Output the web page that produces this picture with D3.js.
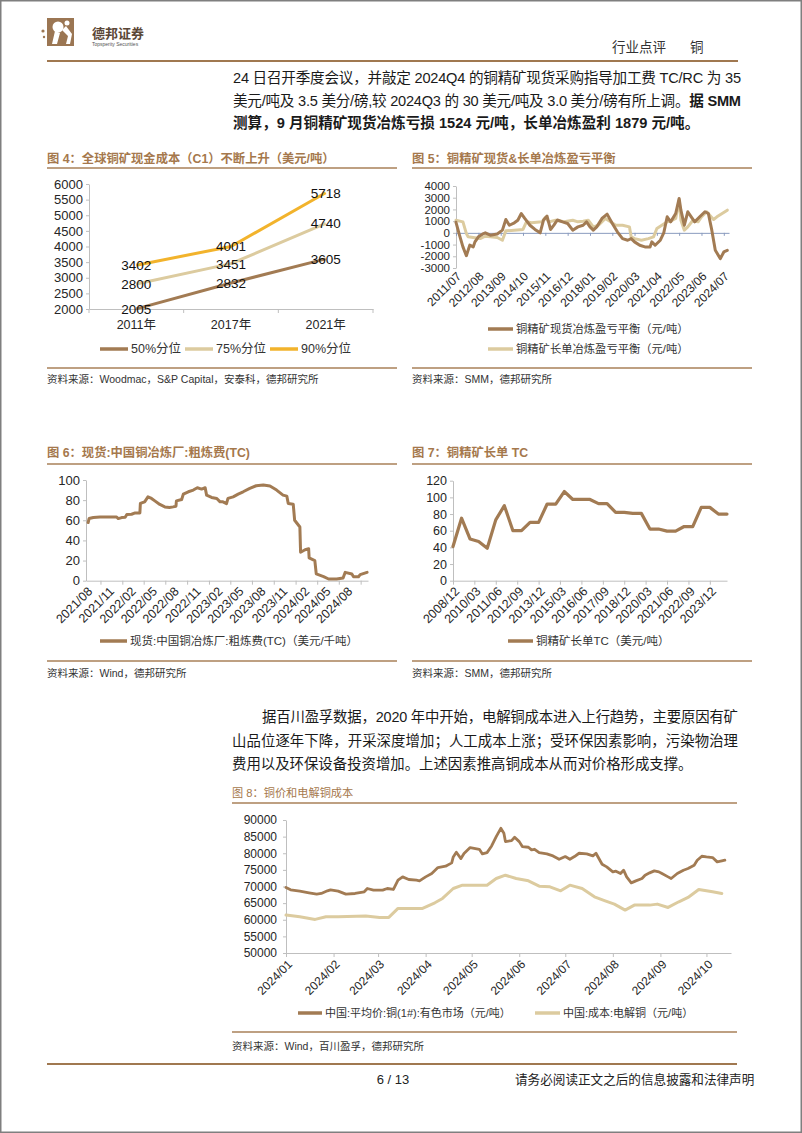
<!DOCTYPE html>
<html><head><meta charset="utf-8">
<script src="https://cdn.jsdelivr.net/npm/d3@7"></script>
<style>
html,body{margin:0;padding:0;background:#fff;}
svg{display:block;}
text{font-family:"Liberation Sans","Noto Sans CJK SC",sans-serif;}
</style></head><body>
<svg id="page" width="802" height="1133"></svg>
<script>
// ---------------- DATA ----------------
// Fig 4
const c1Years = ["2011年","2017年","2021年"];
const c1P50 = [2005, 2832, 3605];
const c1P75 = [2800, 3451, 4740];
const c1P90 = [3402, 4001, 5718];
const c1Ticks = [2000,2500,3000,3500,4000,4500,5000,5500,6000];
const c1Names = ["50%分位","75%分位","90%分位"];

// Fig 5
const balSpotDates = ["2011-07","2011-09","2011-11","2012-01","2012-03","2012-05","2012-06","2012-08","2012-11","2012-12","2013-03","2013-07","2013-10","2013-12","2014-02","2014-05","2014-07","2014-09","2014-11","2015-02","2015-05","2015-08","2015-10","2015-12","2016-02","2016-04","2016-06","2016-09","2016-12","2017-03","2017-06","2017-09","2017-11","2018-01","2018-03","2018-05","2018-08","2018-11","2019-02","2019-05","2019-08","2019-11","2020-01","2020-03","2020-06","2020-09","2020-12","2021-01","2021-03","2021-06","2021-08","2021-10","2021-12","2022-03","2022-05","2022-06","2022-08","2022-10","2022-12","2023-02","2023-05","2023-08","2023-10","2023-12","2024-02","2024-05","2024-07","2024-09"];
const balSpot = [900,-200,-1200,-1950,-1050,-1200,-770,-340,-60,0,-200,-100,230,1140,650,860,1080,1650,1230,650,290,0,1100,1430,290,660,1100,940,800,230,510,650,940,510,230,510,1230,1600,800,90,-490,-630,-490,-770,-1060,-1200,-1200,-770,-1060,-630,0,1370,940,1650,2940,1940,650,1800,1370,940,1370,1800,1650,230,-1490,-2200,-1630,-1500];
const balLongDates = ["2011-07","2011-11","2012-01","2012-02","2012-05","2012-09","2012-12","2013-03","2013-07","2013-10","2013-12","2014-05","2014-10","2014-12","2015-03","2015-09","2015-11","2016-01","2016-05","2016-10","2017-03","2017-06","2017-09","2017-12","2018-03","2018-06","2018-10","2019-01","2019-04","2019-08","2019-12","2020-01","2020-03","2020-07","2020-11","2021-02","2021-04","2021-06","2021-10","2022-01","2022-03","2022-05","2022-06","2022-08","2022-10","2023-01","2023-04","2023-06","2023-09","2024-01","2024-03","2024-06","2024-09"];
const balLong = [1080,940,-60,-340,-400,-490,-290,-340,-400,-630,170,230,290,940,860,940,1310,940,1080,940,1080,940,1000,1080,510,650,1230,940,650,650,510,-340,-490,-630,-490,-340,370,570,940,1080,1230,2800,1080,230,510,1080,940,1370,1800,1140,1370,1650,1940];
const balTicks = [-3000,-2000,-1000,0,1000,2000,3000,4000];
const balTickLabels = ["2011/07","2012/08","2013/09","2014/10","2015/11","2016/12","2018/01","2019/02","2020/03","2021/04","2022/05","2023/06","2024/07"];
const balNames = ["铜精矿现货冶炼盈亏平衡（元/吨）","铜精矿长单冶炼盈亏平衡（元/吨）"];

// Fig 6
const tcSpotDates = ["2021-08-10","2021-08-14","2021-09-01","2021-09-29","2021-10-27","2021-12-08","2021-12-15","2021-12-29","2022-01-13","2022-01-20","2022-02-09","2022-02-24","2022-03-16","2022-03-18","2022-04-05","2022-04-19","2022-05-04","2022-05-18","2022-06-08","2022-06-29","2022-07-19","2022-08-03","2022-08-15","2022-08-17","2022-09-08","2022-09-15","2022-10-06","2022-10-27","2022-11-13","2022-12-01","2022-12-16","2022-12-22","2023-01-12","2023-02-03","2023-02-17","2023-03-01","2023-03-16","2023-03-22","2023-04-13","2023-05-04","2023-05-25","2023-06-22","2023-07-19","2023-08-18","2023-09-15","2023-10-13","2023-11-09","2023-11-25","2023-12-01","2023-12-22","2023-12-28","2024-01-19","2024-01-22","2024-02-10","2024-02-25","2024-02-27","2024-03-22","2024-03-28","2024-04-28","2024-05-19","2024-06-22","2024-07-19","2024-07-28","2024-08-25","2024-09-01","2024-09-22","2024-09-29","2024-10-28"];
const tcSpot = [57.7,61.7,62.7,63.3,63.3,63.3,61.7,62.7,63,65.7,66,67.3,67.3,76.7,78.3,83.3,81.7,79.3,75.7,73.3,72.7,73.3,74,79.3,80.7,86,88.3,90,92.3,91,92.3,85,82.7,81.7,78.3,78.3,76.5,81.7,83.3,86,88.3,91.7,94.3,95,94,90,85,84,76.7,76,60,53.3,28.3,30.7,31.7,22.7,20,6.7,4,1.7,1.7,2.7,8.3,6.7,4,4,6,8.3];
const tcSpotTicks = [0,20,40,60,80,100];
const tcSpotTickLabels = ["2021/08","2021/11","2022/02","2022/05","2022/08","2022/11","2023/02","2023/05","2023/08","2023/11","2024/02","2024/05","2024/08"];
const tcSpotName = "现货:中国铜冶炼厂:粗炼费(TC)（美元/千吨）";

// Fig 7
const tcLongDates = ["2008-12","2009-06","2009-12","2010-06","2010-12","2011-06","2011-12","2012-06","2012-12","2013-06","2013-12","2014-06","2014-12","2015-06","2015-12","2016-06","2016-12","2017-06","2017-12","2018-06","2018-12","2019-06","2019-12","2020-06","2020-12","2021-06","2021-12","2022-06","2022-12","2023-06","2023-12","2024-06","2024-12"];
const tcLong = [41,75,50,47,39,73,90,60,60,70,70,92,92,107,97.5,97.5,97.5,92.5,92.5,82,82,80.8,80.8,62,62,59.5,59.5,65,65,88,88,80,80];
const tcLongTicks = [0,20,40,60,80,100,120];
const tcLongTickLabels = ["2008/12","2010/03","2011/06","2012/09","2013/12","2015/03","2016/06","2017/09","2018/12","2020/03","2021/06","2022/09","2023/12"];
const tcLongName = "铜精矿长单TC（美元/吨）";

// Fig 8
const cuPriceDates = ["2024-01-01","2024-01-04","2024-01-10","2024-01-16","2024-01-21","2024-01-24","2024-01-28","2024-01-30","2024-02-04","2024-02-09","2024-02-15","2024-02-21","2024-02-23","2024-02-27","2024-03-04","2024-03-07","2024-03-11","2024-03-14","2024-03-17","2024-03-21","2024-03-26","2024-03-28","2024-04-01","2024-04-05","2024-04-09","2024-04-14","2024-04-18","2024-04-19","2024-04-21","2024-04-24","2024-04-26","2024-04-30","2024-05-06","2024-05-08","2024-05-11","2024-05-14","2024-05-17","2024-05-20","2024-05-22","2024-05-23","2024-05-27","2024-05-29","2024-06-01","2024-06-03","2024-06-07","2024-06-09","2024-06-11","2024-06-14","2024-06-19","2024-06-23","2024-06-27","2024-07-01","2024-07-04","2024-07-07","2024-07-10","2024-07-15","2024-07-19","2024-07-21","2024-07-25","2024-07-28","2024-08-01","2024-08-03","2024-08-06","2024-08-08","2024-08-10","2024-08-13","2024-08-16","2024-08-20","2024-08-22","2024-08-25","2024-08-28","2024-08-31","2024-09-02","2024-09-06","2024-09-08","2024-09-12","2024-09-16","2024-09-19","2024-09-23","2024-09-25","2024-09-28","2024-10-01","2024-10-05","2024-10-08","2024-10-11","2024-10-13"];
const cuPrice = [69700,69000,68600,68100,67700,67900,68700,69000,68600,67700,67900,68400,69400,68900,68900,69400,69100,71900,72900,72100,71900,71700,72900,73900,75700,76100,77100,78900,80300,78400,79900,81700,81200,79800,80200,82200,85000,87500,86000,83500,83800,84800,83500,82000,81800,81000,81200,80200,79800,79200,78200,79000,78200,79000,80000,79800,79200,80000,76700,75900,74400,74600,73900,74900,72900,71100,71700,72400,73400,74100,74700,74400,73900,72900,72400,73900,74900,75400,76400,77900,79100,78900,78700,77400,77700,77900];
const cuCostDates = ["2024-01-01","2024-01-10","2024-01-20","2024-01-27","2024-02-04","2024-02-22","2024-03-02","2024-03-08","2024-03-14","2024-03-30","2024-04-07","2024-04-12","2024-04-19","2024-04-25","2024-05-11","2024-05-17","2024-05-23","2024-05-30","2024-06-07","2024-06-14","2024-06-21","2024-06-28","2024-07-04","2024-07-12","2024-07-20","2024-07-27","2024-08-02","2024-08-09","2024-08-15","2024-08-25","2024-08-30","2024-09-06","2024-09-13","2024-09-19","2024-09-26","2024-10-05","2024-10-11"];
const cuCost = [61400,60900,60100,60900,60900,61100,60700,60700,63400,63400,65100,66400,69400,70400,70400,72400,73400,72400,71700,70100,69900,68700,70400,69400,66900,65700,64700,62900,64400,64400,64700,63700,65400,66700,69100,68400,67900];
const cuTicks = [50000,55000,60000,65000,70000,75000,80000,85000,90000];
const cuTickLabels = ["2024/01","2024/02","2024/03","2024/04","2024/05","2024/06","2024/07","2024/08","2024/09","2024/10"];
const cuNames = ["中国:平均价:铜(1#):有色市场（元/吨）","中国:成本:电解铜（元/吨）"];

// ---------------- STYLE ----------------
const BROWN = "#a27b53", LIGHT = "#dccb9f", GOLD = "#f2b32c";
const RULEC = "#a98159", TITLEC = "#a5784c", AXISC = "#bfbfbf", TXT = "#262626";
const pM = d3.timeParse("%Y-%m"), pD = d3.timeParse("%Y-%m-%d"), pS = d3.timeParse("%Y/%m");

const svg = d3.select("#page");
svg.append("rect").attr("x",0.75).attr("y",0.75).attr("width",800.5).attr("height",1131.5)
  .attr("fill","#fff").attr("stroke","#7f7f7f").attr("stroke-width",1.5);

function rule(x1,x2,y,w,c){ svg.append("line").attr("x1",x1).attr("x2",x2).attr("y1",y).attr("y2",y).attr("stroke",c||RULEC).attr("stroke-width",w||1.3); }
function txt(x,y,s,size,opt){ opt=opt||{};
  const t = svg.append("text").attr("x",x).attr("y",y).attr("font-size",size).attr("fill",opt.fill||"#1a1a1a").text(s);
  if(opt.weight) t.attr("font-weight",opt.weight);
  if(opt.anchor) t.attr("text-anchor",opt.anchor);
  if(opt.len) t.attr("textLength",opt.len).attr("lengthAdjust","spacing");
  return t; }
function styleAxis(g,size){
  g.select(".domain").attr("stroke",AXISC);
  g.selectAll(".tick line").attr("stroke",AXISC);
  g.selectAll("text").attr("font-size",size).attr("fill",TXT).attr("font-family",'"Liberation Sans",sans-serif');
}
function rotLabels(g,scale,labels,y,dx,size){
  g.selectAll(null).data(labels).join("text")
   .attr("transform",d=>`translate(${scale(pS(d))+dx},${y}) rotate(-45)`)
   .attr("text-anchor","end").attr("dy","0.35em").attr("font-size",size).attr("fill",TXT).text(d=>d);
}
function drawLine(g,x,y,dates,vals,parse,color,w){
  const pts = dates.map((d,i)=>({d:parse(d),v:vals[i]}));
  g.append("path").datum(pts).attr("fill","none").attr("stroke",color).attr("stroke-width",w)
   .attr("stroke-linejoin","round").attr("stroke-linecap","round")
   .attr("d",d3.line().x(p=>x(p.d)).y(p=>y(p.v)));
}
function legendItem(x,y,len,color,w,label,size){
  svg.append("line").attr("x1",x).attr("x2",x+len).attr("y1",y).attr("y2",y).attr("stroke",color).attr("stroke-width",w);
  txt(x+len+3,y,label,size,{fill:"#333"}).attr("dy","0.35em");
}

// ---------------- HEADER ----------------
svg.append("rect").attr("x",47).attr("y",18).attr("width",27).attr("height",28).attr("fill","#9b7653");
svg.append("circle").attr("cx",58).attr("cy",27).attr("r",5.5).attr("fill","#fff");
svg.append("path").attr("d","M55,31 L52,44 L57,44 L60,33 Z M62,30 L68,36 L66,44 L70,44 L72,34 L66,26 Z").attr("fill","#fff");
svg.append("circle").attr("cx",67).attr("cy",23).attr("r",2.5).attr("fill","#fff");
svg.append("circle").attr("cx",43).attr("cy",31).attr("r",1.6).attr("fill","#9b7653");
svg.append("circle").attr("cx",44).attr("cy",37).attr("r",1.2).attr("fill","#9b7653");
txt(92,38,"德邦证券",13,{weight:"bold",fill:"#5a4636"});
txt(92,45.5,"Topsperity Securities",5,{fill:"#555"});
txt(612,52,"行业点评",13.5,{fill:"#333"});
txt(690,52,"铜",13.5,{fill:"#333"});
rule(47,738,61,2.2,"#a07850");

// paragraph 1
txt(233,83,"24 日召开季度会议，并敲定 2024Q4 的铜精矿现货采购指导加工费 TC/RC 为 35",14.6,{len:508});
{ const t = svg.append("text").attr("x",233).attr("y",106).attr("font-size",14.6).attr("fill","#1a1a1a")
    .attr("textLength",508).attr("lengthAdjust","spacing");
  t.append("tspan").text("美元/吨及 3.5 美分/磅,较 2024Q3 的 30 美元/吨及 3.0 美分/磅有所上调。");
  t.append("tspan").attr("font-weight","bold").text("据 SMM"); }
txt(233,128,"测算，9 月铜精矿现货冶炼亏损 1524 元/吨，长单冶炼盈利 1879 元/吨。",14.6,{weight:"bold"});

// ---------------- FIG 4 ----------------
txt(47,163,"图 4：全球铜矿现金成本（C1）不断上升（美元/吨）",12.3,{fill:TITLEC,weight:"bold"});
rule(47,397,168);
{
  const g = svg.append("g");
  const x = d3.scaleBand().domain(c1Years).range([89,373]);
  const y = d3.scaleLinear().domain([2000,6000]).range([309,184]);
  const ya = g.append("g").attr("transform","translate(89,0)")
    .call(d3.axisLeft(y).tickValues(c1Ticks).tickSize(3).tickPadding(3).tickSizeOuter(0).tickFormat(d=>d));
  styleAxis(ya,13);
  const xa = g.append("g").attr("transform","translate(0,309)")
    .call(d3.axisBottom(x).tickSize(0).tickPadding(11).tickSizeOuter(0));
  styleAxis(xa,12.5);
  xa.selectAll("text").attr("font-family",'"Liberation Sans","Noto Sans CJK SC",sans-serif');
  g.selectAll(null).data(d3.range(c1Years.length+1)).join("line")
    .attr("x1",i=>x.range()[0]+i*x.step()).attr("x2",i=>x.range()[0]+i*x.step())
    .attr("y1",y(2000)).attr("y2",y(2000)+4).attr("stroke",AXISC);
  const series = [{n:c1Names[0],v:c1P50,c:BROWN},{n:c1Names[1],v:c1P75,c:LIGHT},{n:c1Names[2],v:c1P90,c:GOLD}];
  const cx = d=>x(d)+x.bandwidth()/2;
  series.forEach(s=>{
    g.append("path").datum(s.v).attr("fill","none").attr("stroke",s.c).attr("stroke-width",3)
      .attr("stroke-linejoin","round")
      .attr("d",d3.line().x((v,i)=>cx(c1Years[i])).y(v=>y(v)));
  });
  series.forEach(s=>{
    g.selectAll(null).data(s.v).join("text").attr("x",(v,i)=>cx(c1Years[i])).attr("y",v=>y(v))
      .attr("dy","0.36em").attr("text-anchor","middle").attr("font-size",13.5).attr("fill","#111").text(v=>v);
  });
  series.forEach((s,i)=>legendItem(100+i*85,349,28,s.c,3.5,s.n,12.5));
}
rule(47,397,368);
txt(47,383,"资料来源：Woodmac，S&P Capital，安泰科，德邦研究所",10.5,{fill:"#333"});

// ---------------- FIG 5 ----------------
txt(412,163,"图 5：铜精矿现货&长单冶炼盈亏平衡",12.3,{fill:TITLEC,weight:"bold"});
rule(412,752,168);
{
  const g = svg.append("g");
  const x = d3.scaleTime().domain([pM("2011-07"),pM("2024-10")]).range([456,729]);
  const y = d3.scaleLinear().domain([-3000,4000]).range([268,186]);
  const ya = g.append("g").attr("transform","translate(456,0)")
    .call(d3.axisLeft(y).tickValues(balTicks).tickSize(3).tickPadding(3).tickSizeOuter(0).tickFormat(d=>String(d)));
  styleAxis(ya,11.5);
  const xa = g.append("g").attr("transform",`translate(0,${y(0)})`)
    .call(d3.axisBottom(x).tickValues(balTickLabels.map(pS)).tickSize(3).tickSizeOuter(0).tickFormat(""));
  xa.select(".domain").attr("stroke","#8a9bbf");
  xa.selectAll(".tick line").attr("stroke","#8a9bbf");
  rotLabels(g,x,balTickLabels,274,3,12);
  drawLine(g,x,y,balLongDates,balLong,pM,LIGHT,3);
  drawLine(g,x,y,balSpotDates,balSpot,pM,BROWN,3);
  legendItem(488,329,25,BROWN,3.5,balNames[0],11.3);
  legendItem(488,349,25,LIGHT,3.5,balNames[1],11.3);
}
rule(412,752,368);
txt(412,383,"资料来源：SMM，德邦研究所",10.5,{fill:"#333"});

// ---------------- FIG 6 ----------------
txt(47,457,"图 6：现货:中国铜冶炼厂:粗炼费(TC)",12.3,{fill:TITLEC,weight:"bold"});
rule(47,397,464);
{
  const g = svg.append("g");
  const x = d3.scaleTime().domain([pM("2021-08"),pM("2024-11")]).range([86,368]);
  const y = d3.scaleLinear().domain([0,100]).range([580.7,480]);
  const ya = g.append("g").attr("transform","translate(86,0)")
    .call(d3.axisLeft(y).tickValues(tcSpotTicks).tickSize(3).tickPadding(3).tickSizeOuter(0));
  styleAxis(ya,13);
  const tickDates = d3.timeMonth.every(3).range(pM("2021-08"),d3.timeDay.offset(pM("2024-11"),1));
  const xa = g.append("g").attr("transform",`translate(0,${y(0)})`)
    .call(d3.axisBottom(x).tickValues(tickDates).tickSize(4).tickSizeOuter(0).tickFormat(""));
  styleAxis(xa,12);
  rotLabels(g,x,tcSpotTickLabels,589,4,12.5);
  drawLine(g,x,y,tcSpotDates,tcSpot,pD,BROWN,3);
  legendItem(100,641,27,BROWN,3.5,tcSpotName,11.5);
}
rule(47,397,661);
txt(47,677,"资料来源：Wind，德邦研究所",10.5,{fill:"#333"});

// ---------------- FIG 7 ----------------
txt(412,457,"图 7：铜精矿长单 TC",12.3,{fill:TITLEC,weight:"bold"});
rule(412,752,464);
{
  const g = svg.append("g");
  const x = d3.scaleTime().domain([pM("2008-12"),pM("2024-12")]).range([453,727]);
  const y = d3.scaleLinear().domain([0,120]).range([580.7,480.7]);
  const ya = g.append("g").attr("transform","translate(453,0)")
    .call(d3.axisLeft(y).tickValues(tcLongTicks).tickSize(3).tickPadding(3).tickSizeOuter(0));
  styleAxis(ya,12.5);
  const xa = g.append("g").attr("transform",`translate(0,${y(0)})`)
    .call(d3.axisBottom(x).tickValues(tcLongTickLabels.map(pS)).tickSize(4).tickSizeOuter(0).tickFormat(""));
  styleAxis(xa,12);
  rotLabels(g,x,tcLongTickLabels,589,4,12.5);
  drawLine(g,x,y,tcLongDates,tcLong,pM,BROWN,3.2);
  legendItem(508,641,25,BROWN,3.5,tcLongName,11.5);
}
rule(412,752,661);
txt(412,677,"资料来源：SMM，德邦研究所",10.5,{fill:"#333"});

// paragraph 2
txt(262,722,"据百川盈孚数据，2020 年中开始，电解铜成本进入上行趋势，主要原因有矿",14.4,{len:476});
txt(232,746,"山品位逐年下降，开采深度增加；人工成本上涨；受环保因素影响，污染物治理",14.4,{len:506});
txt(232,769,"费用以及环保设备投资增加。上述因素推高铜成本从而对价格形成支撑。",14.4);

// ---------------- FIG 8 ----------------
txt(232,797,"图 8：铜价和电解铜成本",11.2,{fill:TITLEC});
rule(232,737,803);
{
  const g = svg.append("g");
  const x = d3.scaleTime().domain([pD("2024-01-01"),pD("2024-10-17")]).range([286,731]);
  const y = d3.scaleLinear().domain([50000,90000]).range([953,820]);
  const ya = g.append("g").attr("transform","translate(286,0)")
    .call(d3.axisLeft(y).tickValues(cuTicks).tickSize(3).tickPadding(6).tickSizeOuter(0).tickFormat(d=>String(d)));
  styleAxis(ya,12);
  const xa = g.append("g").attr("transform",`translate(0,${y(50000)})`)
    .call(d3.axisBottom(x).tickValues(cuTickLabels.map(pS)).tickSize(4).tickSizeOuter(0).tickFormat(""));
  styleAxis(xa,12);
  rotLabels(g,x,cuTickLabels,962,4,12);
  drawLine(g,x,y,cuCostDates,cuCost,pD,LIGHT,3);
  drawLine(g,x,y,cuPriceDates,cuPrice,pD,BROWN,2.8);
  legendItem(298,1013,24,BROWN,3.5,cuNames[0],11);
  legendItem(535,1013,25,LIGHT,3.5,cuNames[1],11);
}
rule(232,737,1032);
txt(232,1050,"资料来源：Wind，百川盈孚，德邦研究所",10.5,{fill:"#333"});

// footer
rule(47,737,1064,2.2,"#a07850");
txt(393,1084,"6 / 13",13,{anchor:"middle",fill:"#222"});
txt(515,1084,"请务必阅读正文之后的信息披露和法律声明",12.6,{fill:"#222"});
</script>
</body></html>
